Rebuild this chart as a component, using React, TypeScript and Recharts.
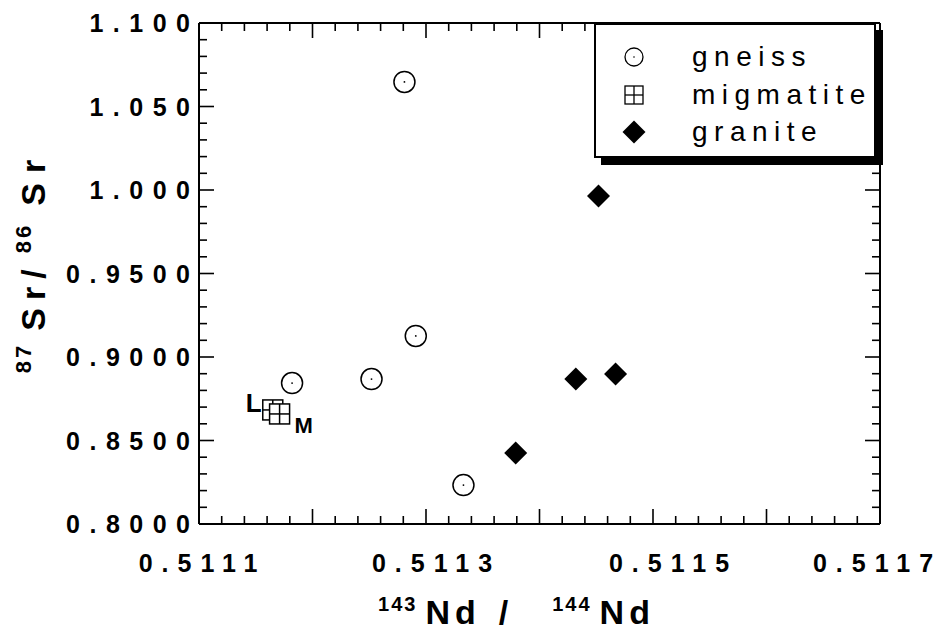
import React from 'react';
import { ScatterChart, Scatter, XAxis, YAxis, LabelList, ReferenceLine } from 'recharts';

const FONT = '"Liberation Sans", Arial, Helvetica, sans-serif';

// axis ticks and their printed labels
const xTicks = [0.5111, 0.5113, 0.5115, 0.5117];
const xTickLabels = ['0.5111', '0.5113', '0.5115', '0.5117'];
const yTicks = [0.8, 0.85, 0.9, 0.95, 1.0, 1.05, 1.1];
const yTickLabels = ['0.8000', '0.8500', '0.9000', '0.9500', '1.000', '1.050', '1.100'];

// measured points, 143Nd/144Nd vs 87Sr/86Sr
const gneissX = [0.511182, 0.511252, 0.511291, 0.511281, 0.511333];
const gneissY = [0.8844, 0.8868, 0.9126, 1.0647, 0.8233];
const migmatiteX = [0.511165, 0.511171];
const migmatiteY = [0.8683, 0.8659];
const migmatiteTags = ['L', 'M'];
const graniteX = [0.511452, 0.511432, 0.511467, 0.511379];
const graniteY = [0.9964, 0.8868, 0.8898, 0.8425];

const seriesNames = ['gneiss', 'migmatite', 'granite'];

const X_DOMAIN: [number, number] = [0.5111, 0.5117];
const Y_DOMAIN: [number, number] = [0.8, 1.1];

const steps = (from: number, to: number, n: number) =>
  Array.from({ length: n + 1 }, (_, i) => +(from + ((to - from) * i) / n).toFixed(6));

// minor tick every 1/5 of a major division
const xMinor = steps(0.5111, 0.5117, 30);
const yMinor = steps(0.8, 1.1, 30);

const gneiss = gneissX.map((x, i) => ({ x, y: gneissY[i] }));
const migmatite = migmatiteX.map((x, i) => ({ x, y: migmatiteY[i], tag: migmatiteTags[i] }));
const granite = graniteX.map((x, i) => ({ x, y: graniteY[i] }));

// plot box in pixels (used to turn tick lengths into data units)
const PLOT_W = 681;
const PLOT_H = 501;
const MINOR = 8;
const MAJOR = 15;
const tickLen = (index: number) => (index % 5 === 0 ? MAJOR : MINOR);
const dxOf = (px: number) => (px * (X_DOMAIN[1] - X_DOMAIN[0])) / PLOT_W;
const dyOf = (px: number) => (px * (Y_DOMAIN[1] - Y_DOMAIN[0])) / PLOT_H;

// printed x labels sit a little off their ticks in the original
const xLabelNudge = [-1, 6, 16, -7];

const XTitle = ({ x, y }: { x: number; y: number }) => (
  <text x={x} y={y} textAnchor="middle" fontFamily={FONT} fontWeight="bold" fill="black">
    <tspan fontSize={20} dy={-13} style={{ letterSpacing: 2 }}>143</tspan>
    <tspan fontSize={34} dy={13} dx={8} style={{ letterSpacing: 5 }}>Nd</tspan>
    <tspan fontSize={34} dx={18}>/</tspan>
    <tspan fontSize={20} dy={-13} dx={44} style={{ letterSpacing: 2 }}>144</tspan>
    <tspan fontSize={34} dy={13} dx={8} style={{ letterSpacing: 5 }}>Nd</tspan>
  </text>
);

const YTitle = ({ x, y }: { x: number; y: number }) => (
  <text transform={`translate(${x},${y}) rotate(-90)`} x={0} y={0} textAnchor="middle"
    fontFamily={FONT} fontWeight="bold" fill="black">
    <tspan fontSize={22} dy={-14} style={{ letterSpacing: 3 }}>87</tspan>
    <tspan fontSize={34} dy={14} dx={12} style={{ letterSpacing: 8 }}>Sr</tspan>
    <tspan fontSize={34}>/</tspan>
    <tspan fontSize={22} dy={-14} dx={16} style={{ letterSpacing: 3 }}>86</tspan>
    <tspan fontSize={34} dy={14} dx={17} style={{ letterSpacing: 10 }}>Sr</tspan>
  </text>
);

const BottomTick = (p: any) => {
  const i = xTicks.findIndex((t) => Math.abs(t - p.payload.value) < 1e-9);
  return (
    <g>
      {i >= 0 && (
        <text x={p.x + xLabelNudge[i] + 4.5} y={p.y + 48} textAnchor="middle" fontFamily={FONT}
          fontWeight="bold" fontSize={25} fill="black" style={{ letterSpacing: 9 }}>
          {xTickLabels[i]}
        </text>
      )}
      {p.index === 15 && <XTitle x={p.x - 23} y={p.y + 100} />}
    </g>
  );
};

const LeftTick = (p: any) => {
  const i = yTicks.findIndex((t) => Math.abs(t - p.payload.value) < 1e-9);
  return (
    <g>
      {i >= 0 && (
        <text x={p.x - 9 + 9.5} y={p.y + 9} textAnchor="end" fontFamily={FONT} fontWeight="bold"
          fontSize={25} fill="black" style={{ letterSpacing: 9.5 }}>
          {yTickLabels[i]}
        </text>
      )}
      {p.index === 15 && <YTitle x={p.x - 154} y={p.y - 12} />}
    </g>
  );
};

const GneissShape = (p: any) => (
  <g>
    <circle cx={p.cx} cy={p.cy} r={10.5} fill="white" stroke="black" strokeWidth={1.5} />
    <circle cx={p.cx} cy={p.cy} r={0.9} fill="black" />
  </g>
);

const MigmatiteShape = (p: any) => {
  const h = 10;
  return (
    <g stroke="black" strokeWidth={1.5}>
      <rect x={p.cx - h} y={p.cy - h} width={2 * h} height={2 * h} fill="white" />
      <line x1={p.cx - h} x2={p.cx + h} y1={p.cy} y2={p.cy} />
      <line x1={p.cx} x2={p.cx} y1={p.cy - h} y2={p.cy + h} />
    </g>
  );
};

const GraniteShape = (p: any) => {
  const h = 11.5;
  return (
    <polygon
      points={`${p.cx},${p.cy - h} ${p.cx + h},${p.cy} ${p.cx},${p.cy + h} ${p.cx - h},${p.cy}`}
      fill="black"
    />
  );
};

const TagLabel = (p: any) => {
  const vb = p.viewBox || p;
  const cx = vb.x + (vb.width || 0) / 2;
  const cy = vb.y + (vb.height || 0) / 2;
  const isL = p.value === 'L';
  return (
    <text x={isL ? cx - 19 : cx + 24} y={isL ? cy + 2 : cy + 19} textAnchor="middle" fontFamily={FONT}
      fontWeight="bold" fontSize={isL ? 26 : 22} fill="black">
      {p.value}
    </text>
  );
};

const LegendMarker = ({ name }: { name: string }) => (
  <svg width={26} height={26}>
    {name === 'gneiss' && (
      <g>
        <circle cx={13} cy={13} r={9} fill="white" stroke="black" strokeWidth={1.3} />
        <circle cx={13} cy={13} r={0.8} fill="black" />
      </g>
    )}
    {name === 'migmatite' && (
      <g stroke="black" strokeWidth={1.3} fill="none">
        <rect x={4} y={4} width={18} height={18} />
        <line x1={4} x2={22} y1={13} y2={13} />
        <line x1={13} x2={13} y1={4} y2={22} />
      </g>
    )}
    {name === 'granite' && <polygon points="13,1.5 24.5,13 13,24.5 1.5,13" fill="black" />}
  </svg>
);

const LegendBox = () => (
  <div
    style={{
      position: 'absolute',
      left: 594,
      top: 23,
      width: 282,
      height: 135,
      boxSizing: 'border-box',
      border: '2px solid black',
      background: 'white',
      boxShadow: '7px 7px 0 black',
      fontFamily: FONT,
    }}
  >
    {seriesNames.map((name, i) => (
      <div key={name} style={{ position: 'absolute', left: 0, top: 32 + i * 37.5 - 20, height: 40, width: 278 }}>
        <div style={{ position: 'absolute', left: 25, top: 7 }}>
          <LegendMarker name={name} />
        </div>
        <div style={{ position: 'absolute', left: 96, top: 0, height: 40, lineHeight: '40px', fontSize: 28, letterSpacing: 6.5, color: 'black' }}>
          {name}
        </div>
      </div>
    ))}
  </div>
);

const axisLine = { stroke: 'black', strokeWidth: 2 };
const tickStyle = { stroke: 'black', strokeWidth: 1.6, ifOverflow: 'visible' as const };

export default function App() {
  return (
    <div style={{ position: 'absolute', left: 0, top: 0, width: 942, height: 632 }}>
      <ScatterChart width={942} height={632} margin={{ top: 0, right: 0, bottom: 0, left: 0 }}>
        <XAxis xAxisId={0} type="number" dataKey="x" domain={X_DOMAIN} ticks={xMinor} interval={0}
          height={108} tickSize={0} tickMargin={0} tickLine={false} axisLine={axisLine} tick={BottomTick}
          allowDataOverflow />
        <XAxis xAxisId="top" orientation="top" type="number" domain={X_DOMAIN} ticks={X_DOMAIN} interval={0}
          height={23} tickSize={0} tickMargin={0} tickLine={false} axisLine={axisLine} tick={false}
          allowDataOverflow />
        <YAxis yAxisId={0} type="number" dataKey="y" domain={Y_DOMAIN} ticks={yMinor} interval={0}
          width={199} tickSize={0} tickMargin={0} tickLine={false} axisLine={axisLine} tick={LeftTick}
          allowDataOverflow />
        <YAxis yAxisId="right" orientation="right" type="number" domain={Y_DOMAIN} ticks={Y_DOMAIN} interval={0}
          width={62} tickSize={0} tickMargin={0} tickLine={false} axisLine={axisLine} tick={false}
          allowDataOverflow />

        {/* inward tick marks on all four sides of the frame */}
        {xMinor.map((v, i) => (
          <ReferenceLine key={`b${i}`} {...tickStyle}
            segment={[{ x: v, y: Y_DOMAIN[0] }, { x: v, y: Y_DOMAIN[0] + dyOf(tickLen(i)) }]} />
        ))}
        {xMinor.map((v, i) => (
          <ReferenceLine key={`t${i}`} {...tickStyle}
            segment={[{ x: v, y: Y_DOMAIN[1] }, { x: v, y: Y_DOMAIN[1] - dyOf(tickLen(i)) }]} />
        ))}
        {yMinor.map((v, i) => (
          <ReferenceLine key={`l${i}`} {...tickStyle}
            segment={[{ x: X_DOMAIN[0], y: v }, { x: X_DOMAIN[0] + dxOf(tickLen(i)), y: v }]} />
        ))}
        {yMinor.map((v, i) => (
          <ReferenceLine key={`r${i}`} {...tickStyle}
            segment={[{ x: X_DOMAIN[1], y: v }, { x: X_DOMAIN[1] - dxOf(tickLen(i)), y: v }]} />
        ))}

        <Scatter name="gneiss" data={gneiss} shape={GneissShape} isAnimationActive={false} />
        <Scatter name="migmatite" data={migmatite} shape={MigmatiteShape} isAnimationActive={false}>
          <LabelList dataKey="tag" content={TagLabel} />
        </Scatter>
        <Scatter name="granite" data={granite} shape={GraniteShape} isAnimationActive={false} />
      </ScatterChart>
      <LegendBox />
    </div>
  );
}
